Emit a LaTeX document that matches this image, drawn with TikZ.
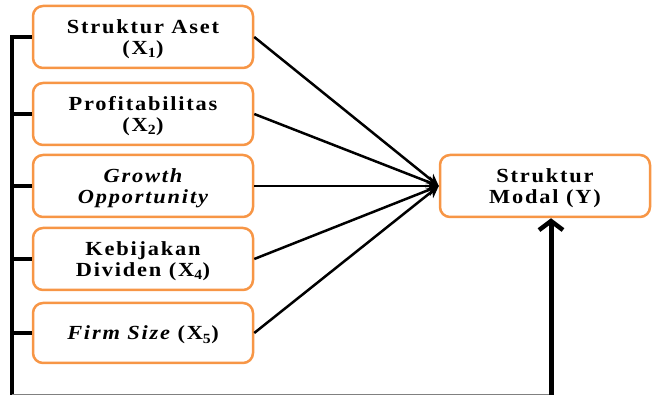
\documentclass[tikz,border=0pt]{standalone}
\usepackage{fontspec}
\setmainfont{Liberation Serif}[LetterSpace=9, FakeStretch=1.12]
\usetikzlibrary{arrows.meta}
\definecolor{boxorange}{HTML}{F79646}
\tikzset{
  varbox/.style={draw=boxorange, line width=2.5pt, rounded corners=10pt, fill=white,
    minimum width=220pt, minimum height=62pt, align=center, inner sep=2pt,
    text depth=-3pt,
    font=\fontsize{20}{21.5}\selectfont\bfseries},
  stub/.style={line width=3.5pt},
  arr/.style={line width=2.5pt, -{Stealth[length=12pt,width=12pt]}},
  uparr/.style={line width=5pt, -{Straight Barb[length=9pt,width=24pt,line width=4.5pt]}},
}
\begin{document}
\begin{tikzpicture}[x=1pt,y=-1pt]
\useasboundingbox (0,0) rectangle (654,395);
\coordinate (bartop) at (12,35);
\coordinate (barbot) at (12,396);
\coordinate (upbot) at (551,396);
\node[varbox] (b1) at (143,37) {Struktur Aset\\(X\textsubscript{1})};
\node[varbox] (b2) at (143,114) {Profitabilitas\\(X\textsubscript{2})};
\node[varbox] (b3) at (143,186) {\itshape Growth\\\itshape Opportunity};
\node[varbox] (b4) at (143,259) {Kebijakan\\Dividen (X\textsubscript{4})};
\node[varbox, minimum height=60pt] (b5) at (143,333) {\itshape Firm Size \upshape(X\textsubscript{5})};
\node[varbox, minimum width=210pt] (y) at (545,186) {Struktur\\Modal (Y)};
% left bracket
\draw[stub] (bartop) -- (barbot);
\foreach \b in {b1,b2,b3,b4,b5} {\draw[stub] (\b.west) -- (\b.west -| bartop);}
\draw[gray, line width=1pt] (12,394.5) -- (551,394.5);
% arrows into Y
\foreach \b in {b1,b2,b3,b4,b5} {\draw[arr] (\b.east) -- (y.west);}
\draw[uparr] (upbot) -- (upbot |- y.south);
\end{tikzpicture}
\end{document}
